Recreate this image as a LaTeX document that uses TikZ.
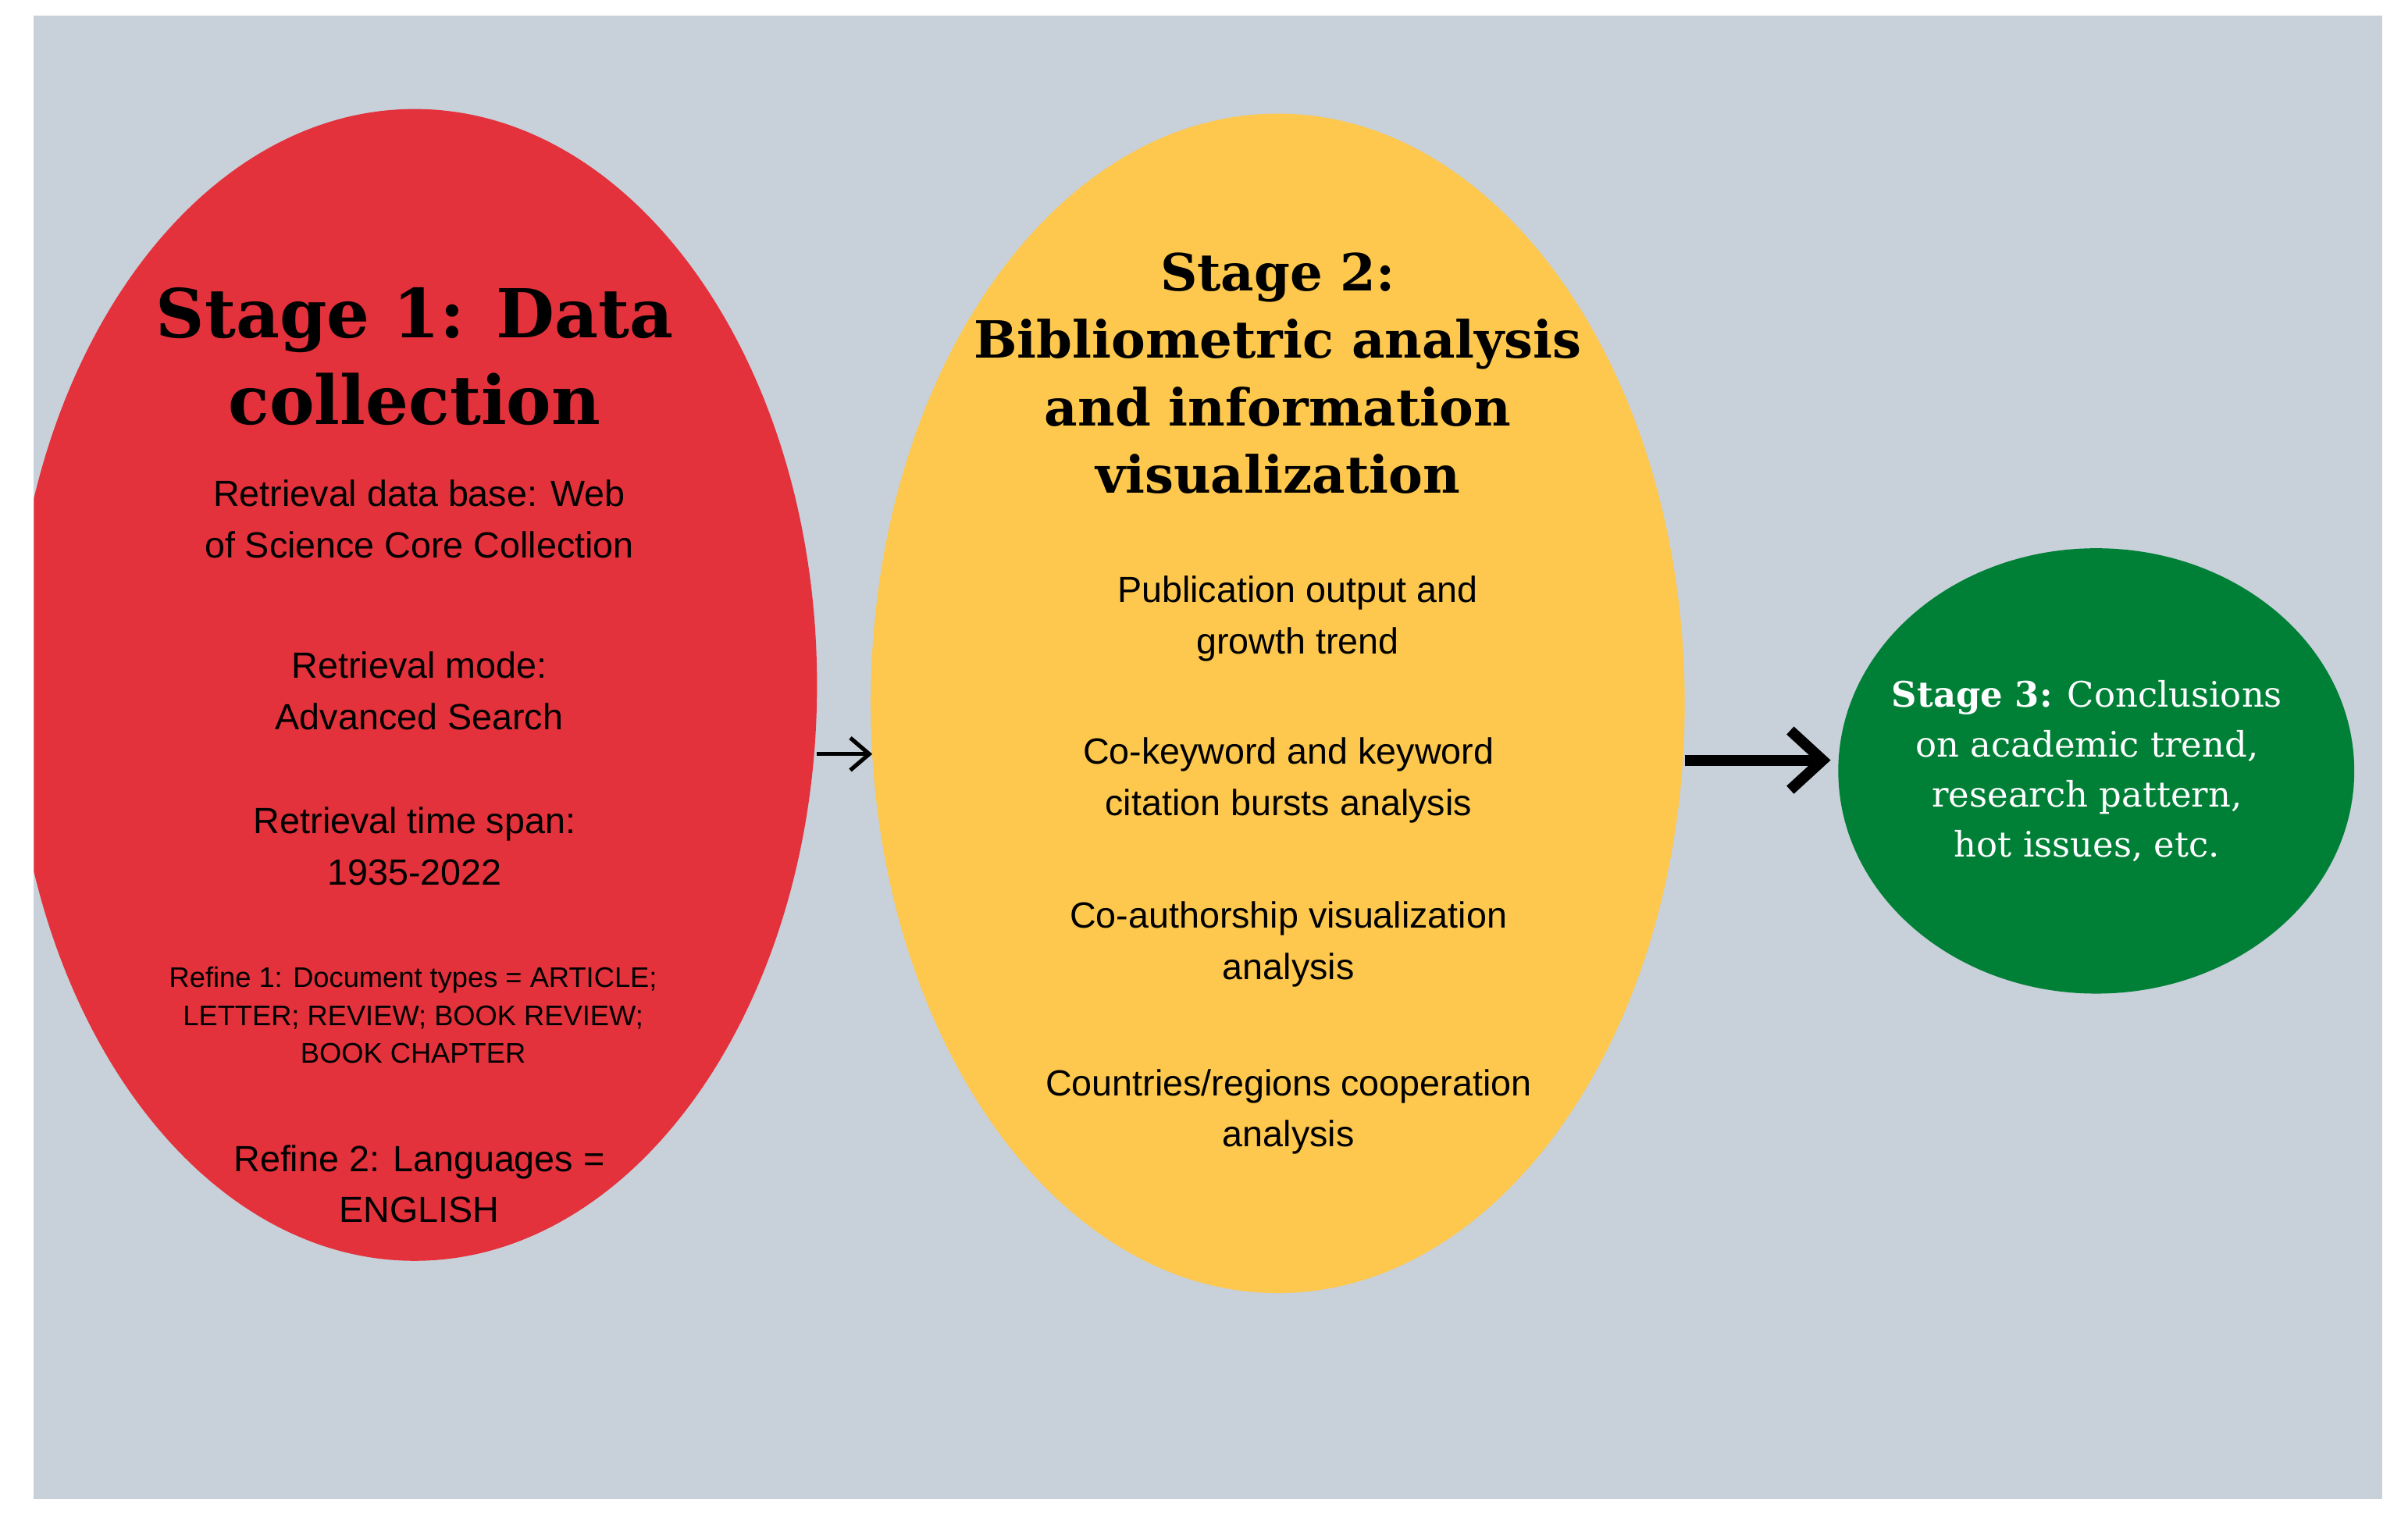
\documentclass[tikz,border=0pt]{standalone}
\usepackage{fontspec}
\setmainfont{Liberation Sans}
\newfontfamily\ser{DejaVu Serif}
\usetikzlibrary{arrows.meta}
\definecolor{bg}{HTML}{C8D0D9}
\definecolor{redc}{HTML}{E3323B}
\definecolor{yelc}{HTML}{FDC84D}
\definecolor{grnc}{HTML}{008037}
\begin{document}
\begin{tikzpicture}[x=0.02cm,y=-0.02cm,
  ttl/.style={align=center,font=\ser\bfseries},
  txt/.style={align=center,font=\fontsize{13.5}{19}\selectfont},
  arr/.style={-{Straight Barb[length=10pt,width=16pt]},line width=2pt}]
\useasboundingbox (0,0) rectangle (1568,990);
\fill[bg] (22,10) rectangle (1551,976);
\begin{scope}
\clip (22,10) rectangle (1551,976);
\fill[redc] (270,446) ellipse [x radius=262, y radius=375];
\end{scope}
\fill[yelc] (832,458) ellipse [x radius=265, y radius=384];
\fill[grnc] (1365,502) ellipse [x radius=168, y radius=145];
\coordinate (r) at (532,491); \coordinate (y1) at (568,491);
\coordinate (y2) at (1097,495); \coordinate (g) at (1192,495);
\draw[-{Straight Barb[length=7pt,width=12pt]},line width=1.5pt] (r) -- (y1);
\draw[-{Straight Barb[length=12pt,width=22pt]},line width=4pt] (y2) -- (g);
\node[ttl,font=\ser\bfseries\fontsize{25}{32}\selectfont] (t1) at (270,232) {Stage 1: Data\\collection};
\node[txt] (a1) at (273,338) {Retrieval data base: Web\\of Science Core Collection};
\node[txt] (a2) at (273,450) {Retrieval mode:\\Advanced Search};
\node[txt] (a3) at (270,551) {Retrieval time span:\\1935-2022};
\node[align=center,font=\fontsize{10.5}{14}\selectfont] (a4) at (269,661) {Refine 1: Document types = ARTICLE;\\LETTER; REVIEW; BOOK REVIEW;\\BOOK CHAPTER};
\node[txt] (a5) at (273,771) {Refine 2: Languages =\\ENGLISH};
\node[ttl,font=\ser\bfseries\fontsize{19}{25}\selectfont] (t2) at (832,243) {Stage 2:\\Bibliometric analysis\\and information\\visualization};
\node[txt] (b1) at (845,403) {Publication output and\\growth trend};
\node[txt] (b2) at (839,508) {Co-keyword and keyword\\citation bursts analysis};
\node[txt] (b3) at (839,615) {Co-authorship visualization\\analysis};
\node[txt] (b4) at (839,724) {Countries/regions cooperation\\analysis};
\node[align=center,text=white,font=\ser\fontsize{13}{18.5}\selectfont] (c1) at (1359,502) {\textbf{Stage 3:} Conclusions\\on academic trend,\\research pattern,\\hot issues, etc.};
\end{tikzpicture}
\end{document}
